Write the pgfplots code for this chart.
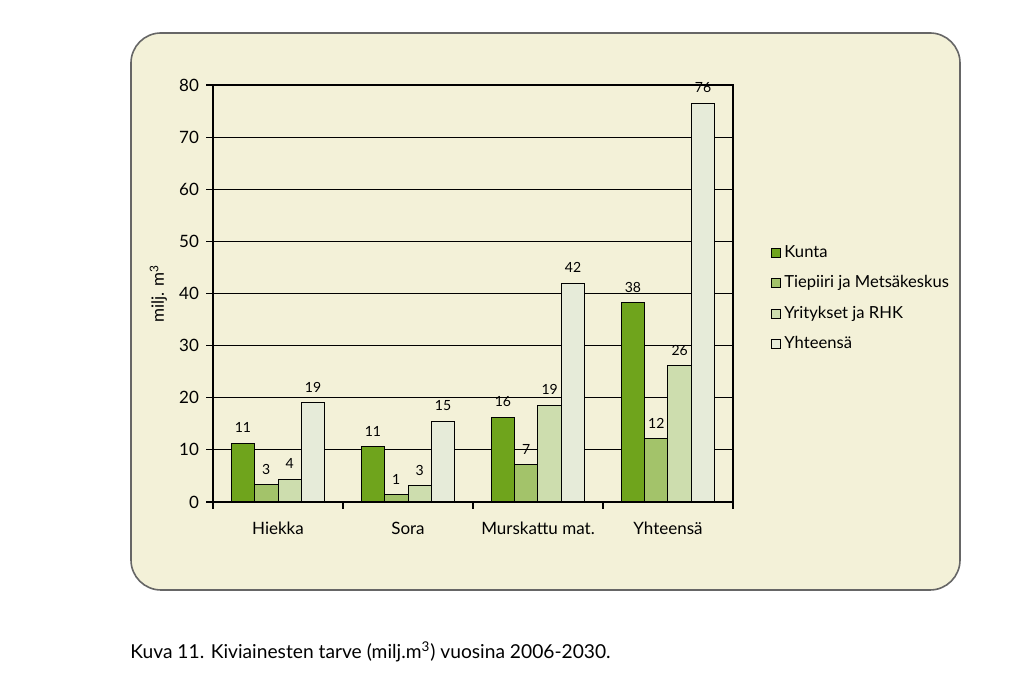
\documentclass[border=0pt]{standalone}
\usepackage{pgfplots}
\pgfplotsset{compat=1.18}
\usepackage{fontspec}
\setmainfont{Lato}

\definecolor{panel}{HTML}{F3F1D8}
\definecolor{kunta}{HTML}{6FA41C}
\definecolor{tiepiiri}{HTML}{A3C36A}
\definecolor{yritys}{HTML}{CDDDAE}
\definecolor{yhteensa}{HTML}{E6EBD9}

\begin{document}
\begin{tikzpicture}[x=0.5pt,y=0.5pt]
\fill[white] (0,0) rectangle (1024,700);
\path[use as bounding box] (0,0) rectangle (1024,700);
% panel behind the chart
\draw[fill=panel, draw=gray!80!black, line width=0.8pt, rounded corners=15pt]
  (131,110) rectangle (960,667);

\begin{axis}[
  at={(106.5pt,99pt)}, anchor=south west,
  scale only axis, width=260pt, height=208.5pt,
  xmin=-0.5, xmax=3.5, ymin=0, ymax=80,
  ytick={0,10,...,80},
  xtick pos=bottom, ytick pos=left,
  ymajorgrids, grid style={black, line width=0.5pt},
  axis line style={black, line width=0.75pt},
  tick align=outside, major tick length=3.5pt,
  tick style={black, line width=0.6pt},
  xtick={-0.5,0.5,1.5,2.5,3.5}, xticklabels={},
  extra x ticks={0,1,2,3},
  extra x tick labels={Hiekka,Sora,Murskattu mat.,Yhteensä},
  extra x tick style={major tick length=0pt, grid=none},
  xticklabel style={yshift=-6.5pt},
  ticklabel style={font=\fontsize{8.5}{10}\selectfont},
  /pgf/number format/assume math mode=true,
  ylabel={milj. m\textsuperscript{3}},
  ylabel style={at={(axis description cs:-0.105,0.5)}, anchor=center, font=\fontsize{8.5}{10}\selectfont},
  ybar=0pt, bar width=0.18,
  every axis plot/.append style={draw=black, line width=0.5pt},
  nodes near coords, point meta=explicit symbolic,
  nodes near coords style={font=\fontsize{7}{8}\selectfont, anchor=south, yshift=1.5pt},
  legend style={at={(axis description cs:1.06,0.635)}, anchor=north west,
    draw=none, fill=none, font=\fontsize{8.3}{10}\selectfont, row sep=3.6pt},
  legend cell align=left,
  legend image code/.code={\draw[#1, draw=black, line width=0.4pt] (0pt,-2.25pt) rectangle (4.5pt,2.25pt);},
]
\addplot[fill=kunta] coordinates {(0,11.3) [11] (1,10.6) [11] (2,16.3) [16] (3,38.2) [38]};
\addplot[fill=tiepiiri] coordinates {(0,3.3) [3] (1,1.5) [1] (2,7.1) [7] (3,12.1) [12]};
\addplot[fill=yritys] coordinates {(0,4.4) [4] (1,3.1) [3] (2,18.6) [19] (3,26.1) [26]};
\addplot[fill=yhteensa] coordinates {(0,19.0) [19] (1,15.5) [15] (2,42.0) [42] (3,76.5) [76]};
\legend{Kunta, Tiepiiri ja Metsäkeskus, Yritykset ja RHK, Yhteensä}
\end{axis}

\node[anchor=base west, inner sep=0pt, font=\fontsize{9.6}{12}\selectfont]
  at (130,41) {Kuva 11. Kiviainesten tarve (milj.m\textsuperscript{3}) vuosina 2006-2030.};
\end{tikzpicture}
\end{document}
